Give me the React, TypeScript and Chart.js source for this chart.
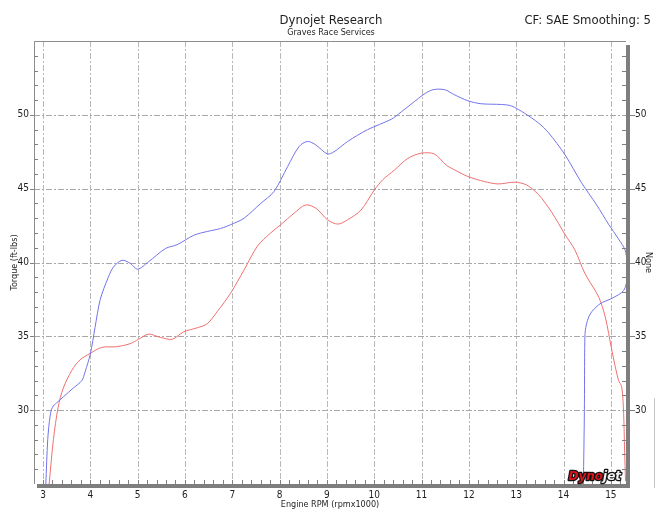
import { useEffect, useRef } from "react";
import { Chart, registerables } from "chart.js";

Chart.register(...registerables);

const FONT = "'DejaVu Sans Condensed', 'DejaVu Sans', sans-serif";

const titleText = "Dynojet Research";
const subtitleText = "Graves Race Services";
const cornerText = "CF: SAE Smoothing: 5";
const xTitle = "Engine RPM (rpmx1000)";
const yTitle = "Torque (ft-lbs)";
const y2Title = "None";

const rpmTicks = [3, 4, 5, 6, 7, 8, 9, 10, 11, 12, 13, 14, 15];
const torqueTicks = [30, 35, 40, 45, 50];

// Run 1 (blue)
const run1Rpm = [
  3.06, 3.1, 3.15, 3.2, 3.29, 3.43, 3.64, 3.82, 3.89, 4.0, 4.1, 4.21, 4.38, 4.49, 4.67, 4.84, 5.0, 5.23,
  5.59, 5.83, 6.19, 6.47, 6.75, 7.03, 7.25, 7.6, 7.88, 8.17, 8.41, 8.59, 8.77, 9.01, 9.15, 9.44, 9.86,
  10.36, 10.57, 10.85, 11.03, 11.24, 11.49, 11.7, 11.98, 12.26, 12.69, 12.9, 13.18, 13.47, 13.68, 14.03,
  14.38, 14.7, 14.95, 15.16, 15.3, 15.34, 15.35, 15.27, 15.02, 14.77, 14.56, 14.47, 14.45, 14.44, 14.42,
];
const run1Torque = [
  25.0, 28.0, 29.6, 30.2, 30.5, 30.9, 31.5, 32.0, 32.6, 33.8, 35.6, 37.5, 39.0, 39.7, 40.15, 39.95, 39.55,
  40.05, 40.95, 41.2, 41.85, 42.1, 42.3, 42.65, 43.0, 44.0, 44.8, 46.5, 47.85, 48.2, 47.95, 47.35, 47.5,
  48.2, 49.0, 49.7, 50.2, 50.9, 51.35, 51.7, 51.7, 51.35, 50.95, 50.75, 50.7, 50.6, 50.1, 49.45, 48.8,
  47.3, 45.4, 43.9, 42.6, 41.6, 40.85, 40.05, 39.05, 38.1, 37.57, 37.2, 36.5, 35.6, 34.75, 29.9, 25.0,
];

// Run 2 (red)
const run2Rpm = [
  3.13, 3.22, 3.32, 3.43, 3.61, 3.78, 4.0, 4.24, 4.56, 4.84, 5.02, 5.23, 5.48, 5.73, 5.97, 6.26, 6.47,
  6.68, 6.96, 7.25, 7.53, 7.81, 8.02, 8.31, 8.55, 8.77, 9.01, 9.23, 9.44, 9.72, 10.0, 10.18, 10.43, 10.71,
  10.99, 11.27, 11.52, 11.77, 11.98, 12.33, 12.62, 12.97, 13.22, 13.47, 13.75, 14.03, 14.24, 14.45, 14.74,
  14.88, 15.02, 15.16, 15.23, 15.27, 15.29, 15.31,
];
const run2Torque = [
  25.0, 28.0, 30.2, 31.5, 32.7, 33.4, 33.85, 34.25, 34.3, 34.5, 34.8, 35.15, 34.93, 34.8, 35.3, 35.58,
  35.85, 36.67, 37.9, 39.5, 41.1, 42.0, 42.55, 43.35, 43.9, 43.67, 42.9, 42.6, 42.9, 43.55, 44.9, 45.6,
  46.27, 47.05, 47.4, 47.35, 46.6, 46.15, 45.82, 45.48, 45.32, 45.44, 45.25, 44.6, 43.4, 41.9, 40.85,
  39.27, 37.68, 36.33, 34.07, 32.03, 31.58, 29.77, 27.3, 25.2,
];

const toPoints = (xs: number[], ys: number[]) => xs.map((x, i) => ({ x, y: ys[i] }));

const decorPlugin = {
  id: "decor",
  beforeDatasetsDraw(chart: any) {
    const { ctx, chartArea } = chart;
    const { left, right, top, bottom } = chartArea;
    const xs = chart.scales.x;
    const ys = chart.scales.y;
    ctx.save();
    ctx.lineWidth = 1;
    ctx.setLineDash([6, 2, 2, 2]);
    ctx.strokeStyle = "#b8b8b8";
    rpmTicks.forEach((v) => {
      const px = Math.round(xs.getPixelForValue(v)) + 0.5;
      ctx.beginPath();
      ctx.moveTo(px, top);
      ctx.lineTo(px, bottom);
      ctx.stroke();
    });
    ctx.strokeStyle = "#a8a8a8";
    torqueTicks.forEach((v) => {
      const py = Math.round(ys.getPixelForValue(v)) + 0.5;
      ctx.beginPath();
      ctx.moveTo(left, py);
      ctx.lineTo(right, py);
      ctx.stroke();
    });
    ctx.restore();
  },
  afterDatasetsDraw(chart: any) {
    const { ctx, chartArea } = chart;
    const { left, right, top, bottom } = chartArea;
    const xs = chart.scales.x;
    const ys = chart.scales.y;
    ctx.save();
    ctx.setLineDash([]);
    ctx.lineWidth = 1;
    ctx.strokeStyle = "#8c8c8c";
    ctx.beginPath();
    ctx.moveTo(left + 0.5, bottom);
    ctx.lineTo(left + 0.5, top + 0.5);
    ctx.lineTo(right, top + 0.5);
    ctx.stroke();
    ctx.fillStyle = "#7e7e7e";
    ctx.fillRect(right, top + 4, 4, bottom + 4 - (top + 4));
    ctx.fillRect(left + 3, bottom, right + 4 - (left + 3), 4);
    ctx.strokeStyle = "#808080";
    for (let v = 26; v <= 54; v++) {
      const py = Math.round(ys.getPixelForValue(v)) + 0.5;
      const major = v % 5 === 0;
      ctx.beginPath();
      if (major) {
        ctx.moveTo(left - 4, py);
        ctx.lineTo(left, py);
        ctx.moveTo(right + 4, py);
        ctx.lineTo(right + 9, py);
      } else {
        ctx.moveTo(left, py);
        ctx.lineTo(left + 4, py);
        ctx.moveTo(right - 4, py);
        ctx.lineTo(right, py);
      }
      ctx.stroke();
    }
    for (let i = 0; i <= 61; i++) {
      const v = 3 + i * 0.2;
      if (v > 15.3) break;
      const px = Math.round(xs.getPixelForValue(v)) + 0.5;
      ctx.beginPath();
      ctx.moveTo(px, bottom - 4);
      ctx.lineTo(px, bottom);
      ctx.stroke();
    }
    ctx.restore();
  },
  afterDraw(chart: any) {
    const { ctx, chartArea } = chart;
    const { left, right, top, bottom } = chartArea;
    const cx = (left + right) / 2;
    const cy = (top + bottom) / 2;
    ctx.save();
    ctx.fillStyle = "#1e1e1e";
    ctx.textBaseline = "alphabetic";
    ctx.textAlign = "center";
    ctx.font = `13px ${FONT}`;
    ctx.fillText(titleText, cx + 1, 24);
    ctx.font = `9px ${FONT}`;
    ctx.fillText(subtitleText, cx + 1, 35);
    ctx.textAlign = "right";
    ctx.font = `13px ${FONT}`;
    ctx.fillText(cornerText, 651, 24);
    ctx.textAlign = "center";
    ctx.font = `9px ${FONT}`;
    ctx.fillText(xTitle, cx, 507);
    ctx.textBaseline = "middle";
    ctx.save();
    ctx.translate(15, cy);
    ctx.rotate(-Math.PI / 2);
    ctx.fillText(yTitle, 0, 0);
    ctx.restore();
    ctx.save();
    ctx.translate(648, cy);
    ctx.rotate(Math.PI / 2);
    ctx.fillText(y2Title, 0, 0);
    ctx.restore();
    ctx.strokeStyle = "#c4c4c4";
    ctx.lineWidth = 1;
    ctx.beginPath();
    ctx.moveTo(654.5, 398);
    ctx.lineTo(654.5, 488);
    ctx.stroke();
    // logo
    ctx.font = `italic bold 12px 'DejaVu Sans', sans-serif`;
    ctx.textAlign = "left";
    ctx.textBaseline = "alphabetic";
    const part1 = "Dyno";
    const part2 = "jet";
    const w1 = ctx.measureText(part1).width;
    const w2 = ctx.measureText(part2).width;
    const lx = right - 5 - (w1 + w2);
    const ly = bottom - 4;
    ctx.lineJoin = "round";
    ctx.lineWidth = 2.5;
    ctx.strokeStyle = "#111";
    ctx.strokeText(part1, lx, ly);
    ctx.strokeText(part2, lx + w1, ly);
    ctx.fillStyle = "#d8141c";
    ctx.fillText(part1, lx, ly);
    ctx.fillStyle = "#f2f2f2";
    ctx.fillText(part2, lx + w1, ly);
    ctx.restore();
  },
};

export default function App() {
  const ref = useRef<HTMLCanvasElement | null>(null);
  useEffect(() => {
    if (!ref.current) return;
    const tickFont = { family: FONT, size: 10 };
    const hideEdge = (v: any) => (v === 25 || v === 55 ? "" : String(v));
    const chart = new Chart(ref.current, {
      type: "scatter",
      data: {
        datasets: [
          {
            label: "Run 1",
            data: toPoints(run1Rpm, run1Torque),
            showLine: true,
            borderColor: "#7373ea",
            borderWidth: 1,
            pointRadius: 0,
            tension: 0.3,
            yAxisID: "y",
          },
          {
            label: "Run 2",
            data: toPoints(run2Rpm, run2Torque),
            showLine: true,
            borderColor: "#f07070",
            borderWidth: 1,
            pointRadius: 0,
            tension: 0.3,
            yAxisID: "y",
          },
        ],
      },
      options: {
        animation: false,
        responsive: false,
        layout: { padding: { top: 41, left: 0, right: 0, bottom: 0 } },
        plugins: {
          legend: { display: false },
          title: { display: false },
          tooltip: { enabled: false },
        },
        scales: {
          x: {
            type: "linear",
            position: "bottom",
            min: 2.81,
            max: 15.32,
            afterFit: (s: any) => {
              s.height = 32;
            },
            ticks: {
              stepSize: 1,
              includeBounds: false,
              font: tickFont,
              color: "#1e1e1e",
              padding: 5,
              maxRotation: 0,
              autoSkip: false,
            },
            grid: { display: false, drawTicks: false },
            border: { display: false },
          },
          y: {
            type: "linear",
            position: "left",
            min: 25,
            max: 55,
            afterFit: (s: any) => {
              s.width = 34;
            },
            ticks: { stepSize: 5, font: tickFont, color: "#1e1e1e", padding: 5, callback: hideEdge },
            grid: { display: false, drawTicks: false },
            border: { display: false },
          },
          y2: {
            type: "linear",
            position: "right",
            min: 25,
            max: 55,
            afterFit: (s: any) => {
              s.width = 31;
            },
            ticks: { stepSize: 5, font: tickFont, color: "#1e1e1e", padding: 9, callback: hideEdge },
            grid: { display: false, drawTicks: false },
            border: { display: false },
          },
        },
      },
      plugins: [decorPlugin],
    } as any);
    return () => chart.destroy();
  }, []);
  return (
    <div style={{ position: "fixed", left: 0, top: 0, width: 657, height: 516, background: "#fff" }}>
      <canvas ref={ref} width={657} height={516} style={{ display: "block" }} />
    </div>
  );
}
